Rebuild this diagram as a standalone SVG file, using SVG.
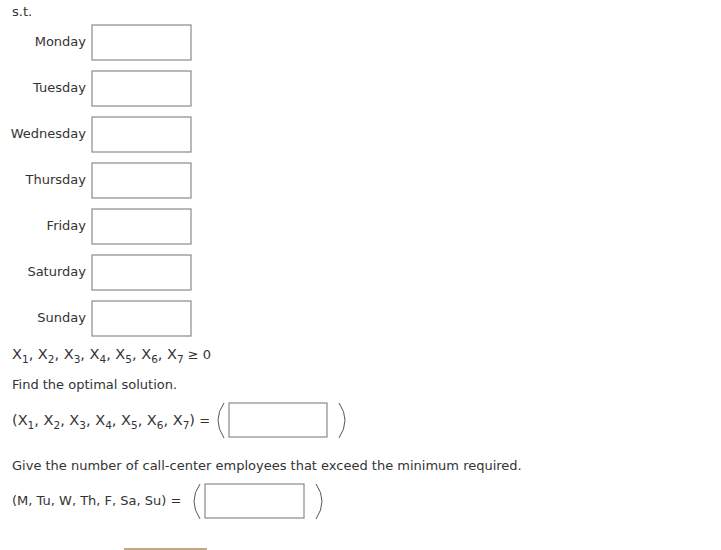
<svg xmlns="http://www.w3.org/2000/svg" width="721" height="550" viewBox="0 0 721 550">
<style>
text{font-family:"DejaVu Sans",Verdana,sans-serif;font-size:13px;fill:#333}
.r{text-anchor:end}
.b{fill:#fff;stroke:#8a8a8a;stroke-width:1.2}
.p{fill:none;stroke:#555;stroke-width:1}
.x{font-size:14.5px}
.s{font-size:10.5px}
.n{font-size:13px}
</style>
<rect width="721" height="550" fill="#fff"/>
<text x="12" y="16">s.t.</text>
<g id="monday"><text class="r" x="86" y="46">Monday</text><rect class="b" x="92" y="25" width="99" height="35"/></g>
<g id="tuesday"><text class="r" x="86" y="92">Tuesday</text><rect class="b" x="92" y="71" width="99" height="35"/></g>
<g id="wednesday"><text class="r" x="86" y="138">Wednesday</text><rect class="b" x="92" y="117" width="99" height="35"/></g>
<g id="thursday"><text class="r" x="86" y="184">Thursday</text><rect class="b" x="92" y="163" width="99" height="35"/></g>
<g id="friday"><text class="r" x="86" y="230">Friday</text><rect class="b" x="92" y="209" width="99" height="35"/></g>
<g id="saturday"><text class="r" x="86" y="276">Saturday</text><rect class="b" x="92" y="255" width="99" height="35"/></g>
<g id="sunday"><text class="r" x="86" y="322">Sunday</text><rect class="b" x="92" y="301" width="99" height="35"/></g>
<text x="12" y="359" class="x">X<tspan class="s" dy="4">1</tspan><tspan dy="-4">, X</tspan><tspan class="s" dy="4">2</tspan><tspan dy="-4">, X</tspan><tspan class="s" dy="4">3</tspan><tspan dy="-4">, X</tspan><tspan class="s" dy="4">4</tspan><tspan dy="-4">, X</tspan><tspan class="s" dy="4">5</tspan><tspan dy="-4">, X</tspan><tspan class="s" dy="4">6</tspan><tspan dy="-4">, X</tspan><tspan class="s" dy="4">7</tspan><tspan dy="-4" class="n"> ≥ 0</tspan></text>
<text x="12" y="389">Find the optimal solution.</text>
<text x="12" y="425" class="x">(X<tspan class="s" dy="4">1</tspan><tspan dy="-4">, X</tspan><tspan class="s" dy="4">2</tspan><tspan dy="-4">, X</tspan><tspan class="s" dy="4">3</tspan><tspan dy="-4">, X</tspan><tspan class="s" dy="4">4</tspan><tspan dy="-4">, X</tspan><tspan class="s" dy="4">5</tspan><tspan dy="-4">, X</tspan><tspan class="s" dy="4">6</tspan><tspan dy="-4">, X</tspan><tspan class="s" dy="4">7</tspan><tspan dy="-4">)</tspan><tspan class="n"> =</tspan></text>
<g id="sol"><path class="p" d="M224,403 Q212,420 224,438"/><rect class="b" x="229" y="403" width="98" height="34"/><path class="p" d="M339,403 Q351,420 339,438"/></g>
<text x="12" y="470">Give the number of call-center employees that exceed the minimum required.</text>
<text x="12" y="505">(M, Tu, W, Th, F, Sa, Su) =</text>
<g id="excess"><path class="p" d="M200,484 Q188,501 200,519"/><rect class="b" x="205" y="484" width="99" height="34"/><path class="p" d="M316,484 Q328,501 316,519"/></g>
<line x1="124" y1="549" x2="207" y2="549" stroke="#b08a60" stroke-width="1.5"/>
</svg>
